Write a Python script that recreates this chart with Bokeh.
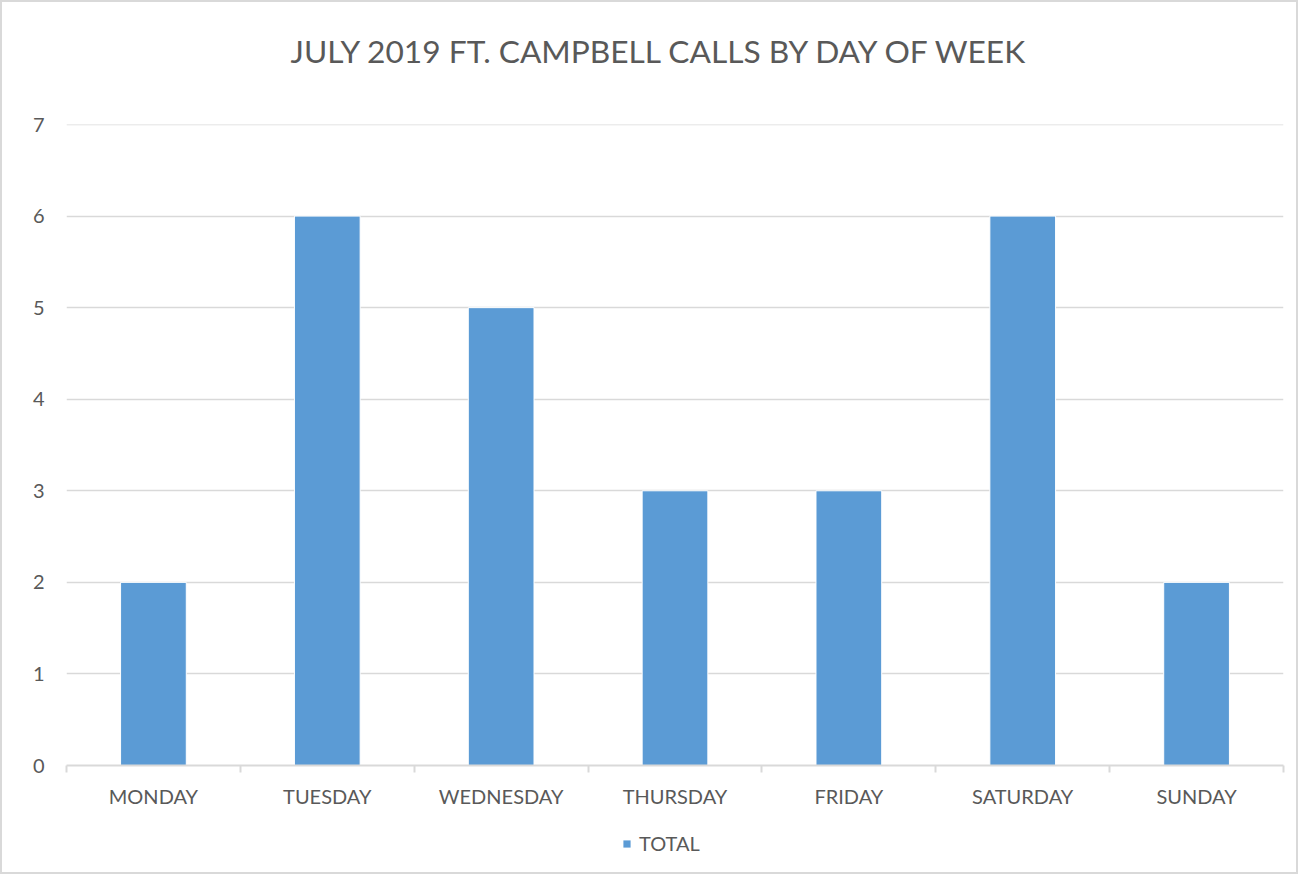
from bokeh.plotting import figure
from bokeh.layouts import column
from bokeh.models import (FixedTicker, Range1d, Legend, LegendItem, ColumnDataSource, Title)
from bokeh.embed import file_html
from bokeh.resources import INLINE

days = ["MONDAY", "TUESDAY", "WEDNESDAY", "THURSDAY", "FRIDAY", "SATURDAY", "SUNDAY"]
totals = [2, 6, 5, 3, 3, 6, 2]
y_ticks = [0, 1, 2, 3, 4, 5, 6, 7]
title_text = "JULY 2019 FT. CAMPBELL CALLS BY DAY OF WEEK"
series_name = "TOTAL"

FONT = "Lato"
TXT = "#595959"
GRID = "#d9d9d9"
BLUE = "#5B9BD5"

xs = [i + 0.5 for i in range(len(days))]
src = ColumnDataSource(dict(x=xs, top=totals, day=days))

W = 1294
p = figure(width=W, height=808, output_backend="svg", toolbar_location=None,
           x_range=Range1d(0, len(days)), y_range=Range1d(0, 7.0001),
           min_border_left=64, min_border_right=13, min_border_top=0, min_border_bottom=0)

# spacer (closest to the frame), then the real title above it
p.add_layout(Title(text=" ", text_font_size="1px", standoff=25), "above")
p.add_layout(Title(text=title_text, align="left", offset=224, text_font=FONT,
                   text_font_size="31.7px", text_color=TXT, text_font_style="normal",
                   standoff=54), "above")

r = p.vbar(x="x", top="top", width=0.378, source=src, fill_color=BLUE, line_color="white", line_width=1)

p.outline_line_color = None
p.background_fill_color = "white"
p.border_fill_color = "white"

# y axis
p.yaxis.ticker = FixedTicker(ticks=y_ticks)
p.yaxis.axis_line_color = None
p.yaxis.major_tick_line_color = None
p.yaxis.major_tick_out = 0
p.yaxis.major_tick_in = 0
p.yaxis.minor_tick_line_color = None
p.yaxis.major_label_text_font = FONT
p.yaxis.major_label_text_font_size = "20px"
p.yaxis.major_label_text_color = TXT
p.yaxis.major_label_standoff = 22

# x axis: labels at centers, ticks at boundaries
p.xaxis.ticker = FixedTicker(ticks=xs, minor_ticks=list(range(len(days) + 1)))
p.xaxis.major_label_overrides = {x: d for x, d in zip(xs, days)}
p.xaxis.axis_line_color = GRID
p.xaxis.axis_line_width = 2
p.xaxis.major_tick_line_color = None
p.xaxis.major_tick_out = 0
p.xaxis.major_tick_in = 0
p.xaxis.minor_tick_line_color = GRID
p.xaxis.minor_tick_line_width = 2
p.xaxis.minor_tick_out = 7
p.xaxis.minor_tick_in = 0
p.xaxis.major_label_text_font = FONT
p.xaxis.major_label_text_font_size = "20px"
p.xaxis.major_label_text_color = TXT
p.xaxis.major_label_standoff = 11

p.xgrid.grid_line_color = None
p.ygrid.ticker = FixedTicker(ticks=y_ticks)
p.ygrid.grid_line_color = GRID
p.ygrid.grid_line_width = 1.6

# legend strip below the chart (its zero-height bar is invisible; only the legend shows)
pl = figure(width=W, height=62, output_backend="svg", toolbar_location=None,
            x_range=Range1d(0, 1), y_range=Range1d(0, 1),
            min_border=0, x_axis_location=None, y_axis_location=None)
pl.outline_line_color = None
pl.xgrid.visible = False
pl.ygrid.visible = False
rl = pl.vbar(x=[0.5], top=[0], bottom=[0], width=0.378, fill_color=BLUE, line_color=None)
legend = Legend(items=[LegendItem(label=series_name, renderers=[rl])], orientation="horizontal",
                location=(556, 17), glyph_width=9, glyph_height=9, label_text_font=FONT,
                label_text_font_size="20px", label_text_color=TXT, border_line_color=None,
                background_fill_alpha=0, label_standoff=8, padding=0, margin=0)
pl.add_layout(legend, "center")

layout = column(p, pl, spacing=0)
layout.styles = {"border": "2px solid #d9d9d9"}

open("out.html", "w").write(file_html(layout, INLINE))
